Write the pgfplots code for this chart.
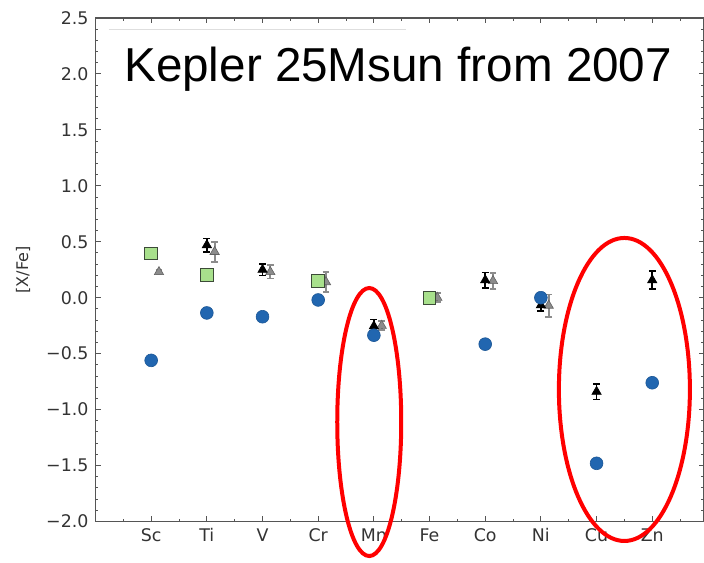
\documentclass[border=0pt]{standalone}
\usepackage{fontspec}
\setmainfont{DejaVu Sans}
\newfontfamily\helv{Liberation Sans}
\usepackage{pgfplots}
\pgfplotsset{compat=1.18}
\usetikzlibrary{calc}

\definecolor{ptblue}{HTML}{2166B0}
\definecolor{sqgreen}{HTML}{A8E08C}
\definecolor{sqedge}{HTML}{3C4A38}
\definecolor{tgrey}{HTML}{8C8C8C}
\definecolor{spine}{HTML}{555555}
\definecolor{ticktxt}{HTML}{333333}

\pgfplotstableread{
x     y      e
1.14  0.23   0.02
2.14  0.41   0.09
3.14  0.23   0.06
4.14  0.14   0.09
5.14  -0.25  0.04
6.14  0.00   0.04
7.14  0.15   0.07
8.14  -0.07  0.10
}\greytri

\pgfplotstableread{
x   y       e
2   0.47    0.06
3   0.25    0.05
4   0.15    0.03
5   -0.255  0.06
6   0.00    0.03
7   0.157   0.07
8   -0.067  0.05
9   -0.84   0.07
10  0.157   0.08
}\blacktri

\begin{document}
\begin{tikzpicture}
\begin{axis}[
  scale only axis, width=304.25pt, height=251.75pt,
  xmin=0, xmax=10.93, ymin=-2, ymax=2.5,
  xtick={1,2,3,4,5,6,7,8,9,10},
  xticklabels={Sc,Ti,V,Cr,Mn,Fe,Co,Ni,Cu,Zn},
  minor xtick={0.5,1.5,2.5,3.5,4.5,5.5,6.5,7.5,8.5,9.5,10.5},
  ytick={-2,-1.5,-1,-0.5,0,0.5,1,1.5,2,2.5},
  yticklabels={−2.0,−1.5,−1.0,−0.5,0.0,0.5,1.0,1.5,2.0,2.5},
  minor y tick num=4,
  tick align=inside, major tick length=2.5pt, minor tick length=1.3pt,
  tick style={spine, line width=0.5pt},
  axis line style={spine, line width=0.7pt},
  tick label style={font=\fontsize{8.7}{10}\selectfont, text=ticktxt},
  ylabel={[X/Fe]},
  ylabel style={font=\fontsize{8}{10}\selectfont, text=ticktxt,
    at={(axis description cs:-0.119,0.5)}, anchor=center},
  clip=false,
]
\coordinate (SW) at (rel axis cs:0,0);
\coordinate (NE) at (rel axis cs:1,1);

% grey triangles
\addplot[only marks, mark=triangle*, mark size=2.7pt,
  mark options={fill=tgrey, draw=tgrey!70!black, line width=0.3pt},
  error bars/.cd, y dir=both, y explicit,
  error bar style={tgrey, line width=0.9pt},
  error mark options={rotate=90, tgrey, mark size=1.7pt, line width=0.8pt}]
  table[x=x, y=y, y error=e] {\greytri};

% black triangles
\addplot[only marks, mark=triangle*, mark size=2.7pt,
  mark options={fill=black, draw=black, line width=0.3pt},
  error bars/.cd, y dir=both, y explicit,
  error bar style={black, line width=0.9pt},
  error mark options={rotate=90, black, mark size=1.7pt, line width=0.8pt}]
  table[x=x, y=y, y error=e] {\blacktri};

% green squares
\addplot[only marks, mark=square*, mark size=3.2pt,
  mark options={fill=sqgreen, draw=sqedge, line width=0.5pt}]
  coordinates {(1,0.395) (2,0.20) (4,0.15) (6,0.0)};

% blue circles
\addplot[only marks, mark=*, mark size=3.2pt,
  mark options={fill=ptblue, draw=ptblue!85!black, line width=0.3pt}]
  coordinates {(1,-0.56) (2,-0.136) (3,-0.17) (4,-0.02) (5,-0.335)
    (7,-0.415) (8,0.0) (9,-1.48) (10,-0.76)};

\draw[black!13, line width=0.6pt] (axis cs:0.24,2.40) -- (axis cs:5.58,2.40);
\node[anchor=base west, inner sep=0pt, font=\helv\fontsize{23.8}{28}\selectfont]
  at (axis cs:0.51,1.928) {Kepler 25Msun from 2007};

\draw[red, line width=2pt] (axis cs:4.917,-1.111) ellipse [x radius=16pt, y radius=67pt];
\draw[red, line width=2pt] (axis cs:9.50,-0.82) ellipse [x radius=32.75pt, y radius=75.75pt];
\end{axis}
\pgfresetboundingbox
\useasboundingbox ($(SW)+(-47.75pt,-20.75pt)$) rectangle ($(NE)+(0pt,9pt)$);
\end{tikzpicture}
\end{document}
